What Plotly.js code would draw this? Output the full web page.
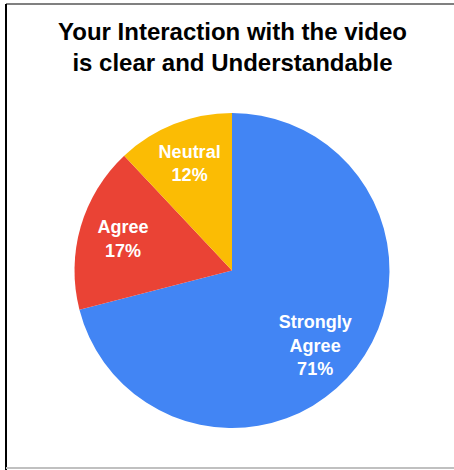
<!DOCTYPE html>
<html>
<head>
<meta charset="utf-8">
<script src="https://cdn.plot.ly/plotly-3.0.1.min.js"></script>
<style>html,body{margin:0;padding:0;background:#fff;}#chart{width:454px;height:470px;}</style>
</head>
<body>
<div id="chart"></div>
<script>
const categories = ["Strongly Agree", "Agree", "Neutral"];
const values = [71, 17, 12];
const colors = ["#4285F4", "#EA4335", "#FBBC04"];
const titleText = "Your Interaction with the video<br>is clear and Understandable";

const W = 454, H = 470;
const cx = 232, cy = 270.5, r = 157.5;
function domain(x, y, rad) {
  return {x: [(x - rad) / W, (x + rad) / W], y: [(H - y - rad) / H, (H - y + rad) / H]};
}
const clear = categories.map(() => "rgba(0,0,0,0)");
const labelText = categories.map(c => c.replace(" ", "<br>"));
const labelFont = {family: "Liberation Sans, Arial, sans-serif", size: 18, color: "#ffffff"};

const base = {
  type: "pie",
  labels: categories,
  values: values,
  sort: false,
  direction: "clockwise",
  rotation: 0,
  hoverinfo: "none",
  showlegend: false
};

const pieTrace = Object.assign({}, base, {
  textinfo: "none",
  marker: {colors: colors, line: {width: 0}},
  domain: domain(cx, cy, r)
});

// labels for the small slices (ring placement)
const smallLabels = Object.assign({}, base, {
  hole: 0.44,
  text: labelText.map((t, i) => i === 0 ? "" : t),
  texttemplate: labelText.map((t, i) => i === 0 ? "" : "<b>%{text}<br>%{percent:.0%}</b>"),
  textposition: "inside",
  insidetextorientation: "horizontal",
  textfont: labelFont,
  marker: {colors: clear, line: {width: 0}},
  domain: domain(cx, cy, r)
});

// label for the large slice (transparent helper pie)
const bigLabel = Object.assign({}, base, {
  text: labelText.map((t, i) => i === 0 ? t : ""),
  texttemplate: labelText.map((t, i) => i === 0 ? "<b>%{text}<br>%{percent:.0%}</b>" : ""),
  textposition: "inside",
  insidetextorientation: "horizontal",
  textfont: labelFont,
  marker: {colors: clear, line: {width: 0}},
  domain: domain(246, 292, 175)
});

const layout = {
  width: W, height: H,
  margin: {l: 0, r: 0, t: 0, b: 0},
  paper_bgcolor: "#ffffff",
  showlegend: false,
  annotations: [{
    text: "<b>" + titleText + "</b>",
    font: {family: "Liberation Sans, Arial, sans-serif", size: 24, color: "#000000"},
    xref: "paper", yref: "paper",
    x: cx / W, xanchor: "center",
    y: 1 - 47 / H, yanchor: "middle",
    showarrow: false, align: "center"
  }],
  shapes: [
    {type: "line", xref: "paper", yref: "paper", x0: 6 / W, x1: 1, y0: 1 - 4 / H, y1: 1 - 4 / H, line: {color: "#808080", width: 2}},
    {type: "line", xref: "paper", yref: "paper", x0: 6 / W, x1: 6 / W, y0: 1 - 4 / H, y1: 0, line: {color: "#000000", width: 2}},
    {type: "line", xref: "paper", yref: "paper", x0: 6 / W, x1: 1, y0: 2 / H, y1: 2 / H, line: {color: "#c0c0c0", width: 2}}
  ]
};

Plotly.newPlot("chart", [pieTrace, smallLabels, bigLabel], layout, {displayModeBar: false, staticPlot: true});
</script>
</body>
</html>
